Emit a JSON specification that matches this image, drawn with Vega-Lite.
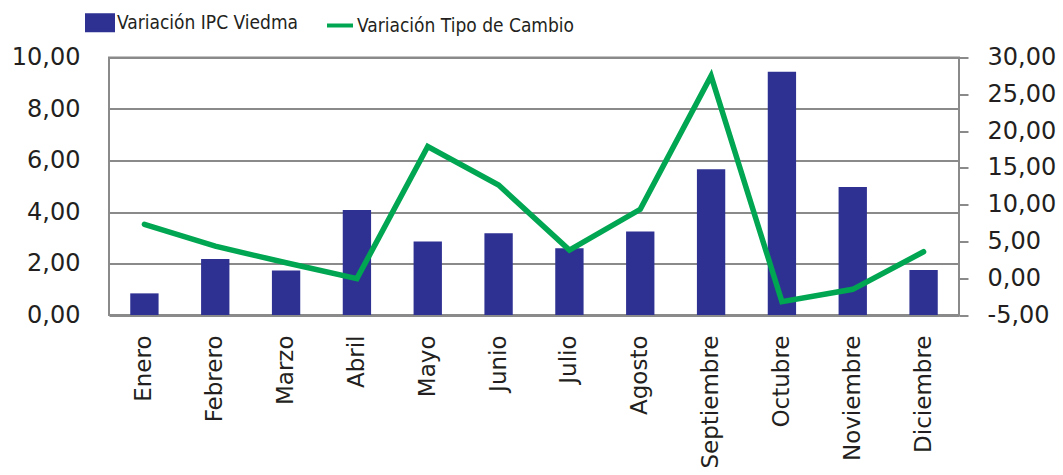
{
  "$schema": "https://vega.github.io/schema/vega-lite/v6.json",
  "width": 850,
  "height": 257.5,
  "autosize": {"type": "none"},
  "padding": {"left": 109, "top": 57.5, "right": 104, "bottom": 160},
  "background": "white",
  "config": {
    "view": {"stroke": "#8a8a8a", "strokeWidth": 2},
    "font": "DejaVu Sans",
    "axis": {"labelFont": "DejaVu Sans", "labelColor": "#231F20", "domain": false}
  },
  "data": {
    "values": [
      {"mes": "Enero", "ipc": 0.84, "tc": 7.33},
      {"mes": "Febrero", "ipc": 2.17, "tc": 4.35},
      {"mes": "Marzo", "ipc": 1.73, "tc": 2.1},
      {"mes": "Abril", "ipc": 4.08, "tc": -0.05},
      {"mes": "Mayo", "ipc": 2.85, "tc": 17.9},
      {"mes": "Junio", "ipc": 3.17, "tc": 12.67},
      {"mes": "Julio", "ipc": 2.59, "tc": 3.83},
      {"mes": "Agosto", "ipc": 3.24, "tc": 9.36},
      {"mes": "Septiembre", "ipc": 5.66, "tc": 27.5},
      {"mes": "Octubre", "ipc": 9.45, "tc": -3.19},
      {"mes": "Noviembre", "ipc": 4.97, "tc": -1.51},
      {"mes": "Diciembre", "ipc": 1.75, "tc": 3.6}
    ]
  },
  "encoding": {
    "x": {
      "field": "mes",
      "type": "nominal",
      "sort": null,
      "scale": {"paddingInner": 0.6, "paddingOuter": 0.3},
      "axis": {
        "title": null,
        "labelAngle": -90,
        "labelAlign": "right",
        "labelBaseline": "middle",
        "labelFontSize": 23,
        "labelPadding": 20,
        "ticks": false,
        "tickSize": 0,
        "grid": false
      }
    }
  },
  "layer": [
    {
      "mark": {"type": "bar"},
      "encoding": {
        "y": {
          "field": "ipc",
          "type": "quantitative",
          "scale": {"domain": [0, 10]},
          "axis": {
            "title": null,
            "values": [0, 2, 4, 6, 8, 10],
            "labelExpr": "replace(replace(format(datum.value, '.2f'), '.', ','), '\u2212', '-')",
            "labelFontSize": 24,
            "labelPadding": 29,
            "ticks": false,
            "tickSize": 0,
            "grid": true,
            "gridColor": "#8a8a8a",
            "gridWidth": 2
          }
        },
        "color": {
          "datum": "Variación IPC Viedma",
          "type": "nominal",
          "scale": {"domain": ["Variación IPC Viedma", "Variación Tipo de Cambio"], "range": ["#2E3192", "#00A651"]},
          "legend": {
            "title": null,
            "orient": "none",
            "direction": "horizontal",
            "legendX": -24,
            "legendY": -50,
            "padding": 0,
            "columnPadding": 20,
            "labelOffset": 2,
            "labelLimit": 0,
            "labelFont": "DejaVu Sans Condensed, DejaVu Sans",
            "labelFontSize": 19,
            "labelColor": "#231F20",
            "symbolSize": 676,
            "symbolStrokeWidth": 4,
            "encode": {
              "symbols": {
                "update": {
                  "shape": {"signal": "datum.value === 'Variación IPC Viedma' ? 'M-1,-0.58H1V0.58H-1Z' : 'M-1,0H1'"},
                  "fill": {"signal": "datum.value === 'Variación IPC Viedma' ? '#2E3192' : 'transparent'"},
                  "stroke": {"signal": "datum.value === 'Variación IPC Viedma' ? 'transparent' : '#00A651'"},
                  "strokeWidth": {"value": 4},
                  "size": {"value": 676},
                  "opacity": {"value": 1}
                }
              }
            }
          }
        }
      }
    },
    {
      "mark": {"type": "line", "strokeWidth": 5.5, "strokeCap": "round", "strokeJoin": "miter"},
      "encoding": {
        "y": {
          "field": "tc",
          "type": "quantitative",
          "scale": {"domain": [-5, 30]},
          "axis": {
            "title": null,
            "orient": "right",
            "values": [-5, 0, 5, 10, 15, 20, 25, 30],
            "labelExpr": "replace(replace(format(datum.value, '.2f'), '.', ','), '\u2212', '-')",
            "labelFontSize": 24,
            "labelPadding": 19,
            "ticks": true,
            "tickSize": 9,
            "tickWidth": 2,
            "tickColor": "#8a8a8a",
            "grid": false
          }
        },
        "color": {"datum": "Variación Tipo de Cambio", "type": "nominal"}
      }
    }
  ],
  "resolve": {"scale": {"y": "independent"}}
}
